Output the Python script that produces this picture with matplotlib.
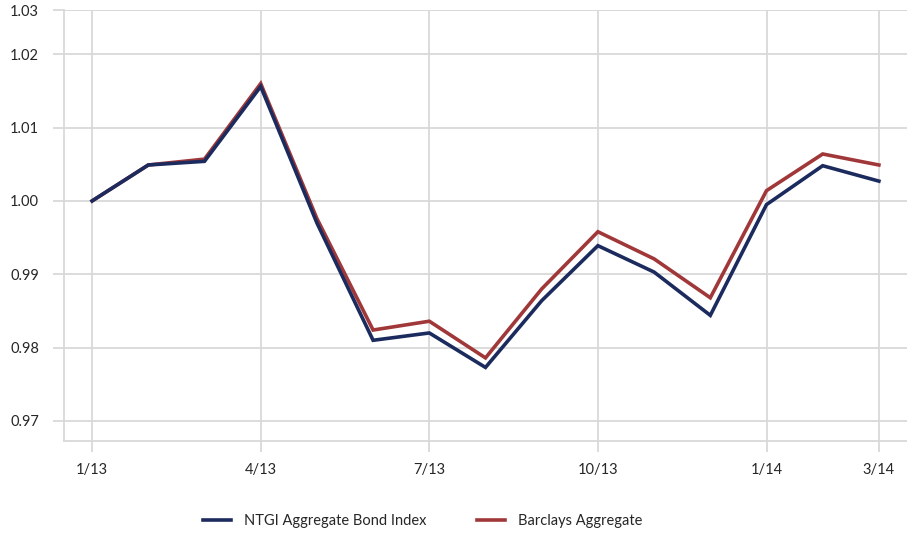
import matplotlib
matplotlib.use("Agg")
import matplotlib.pyplot as plt

months = ["1/13", "2/13", "3/13", "4/13", "5/13", "6/13", "7/13", "8/13",
          "9/13", "10/13", "11/13", "12/13", "1/14", "2/14", "3/14"]
ntgi = [1.0000, 1.0049, 1.0054, 1.0156, 0.9970, 0.9810, 0.9820, 0.9773,
        0.9864, 0.9939, 0.9903, 0.9844, 0.9995, 1.0048, 1.0027]
barclays = [1.0000, 1.0049, 1.0057, 1.0160, 0.9976, 0.9824, 0.9836, 0.9786,
            0.9880, 0.9958, 0.9921, 0.9868, 1.0014, 1.0064, 1.0049]
xtick_labels = ["1/13", "4/13", "7/13", "10/13", "1/14", "3/14"]
ytick_values = [0.97, 0.98, 0.99, 1.00, 1.01, 1.02]
ytick_labels = ["0.97", "0.98", "0.99", "1.00", "1.01", "1.02", "1.03"]
series_names = ["NTGI Aggregate Bond Index", "Barclays Aggregate"]

plt.rcParams['font.family'] = ['Lato', 'DejaVu Sans']

NAVY = "#1C2B5E"
RED = "#A0383A"
GRID = "#D9D9D9"
TEXT = "#262626"

fig = plt.figure(figsize=(9.07, 5.35), dpi=100)
ax = fig.add_axes([64/907, 94/535, 1 - 64/907, (441 - 10)/535])

x = list(range(len(months)))
ymin, ymax = 0.96727, 1.02603
ax.set_xlim(-0.5, 14.5)
ax.set_ylim(ymin, ymax)

l2, = ax.plot(x, barclays, color=RED, lw=2.6, solid_joinstyle='miter', zorder=3)
l1, = ax.plot(x, ntgi, color=NAVY, lw=2.6, solid_joinstyle='miter', zorder=4)

xt = [months.index(m) for m in xtick_labels]
ax.set_xticks(xt)
ax.set_xticklabels(xtick_labels)
ax.set_yticks(ytick_values + [ymax])
ax.set_yticklabels(ytick_labels)

ax.grid(True, color=GRID, lw=1.3, zorder=0)
ax.set_axisbelow(True)
for s in ["top", "right"]:
    ax.spines[s].set_visible(False)
for s in ["left", "bottom"]:
    ax.spines[s].set_color(GRID)
    ax.spines[s].set_linewidth(1.3)
ax.axhline(ymax, color=GRID, lw=1.3, zorder=0)
ax.tick_params(axis='both', length=8, width=1.3, color=GRID,
               labelsize=10.5, labelcolor=TEXT, pad=8)
ax.tick_params(axis='y', pad=10)

fig.legend([l1, l2], series_names, loc='center', bbox_to_anchor=(0.466, 1 - 521/535),
           ncol=2, frameon=False, fontsize=10.5, handlelength=1.9, columnspacing=3.5,
           handletextpad=0.9, labelcolor=TEXT)

fig.savefig("out.png", dpi=100)
